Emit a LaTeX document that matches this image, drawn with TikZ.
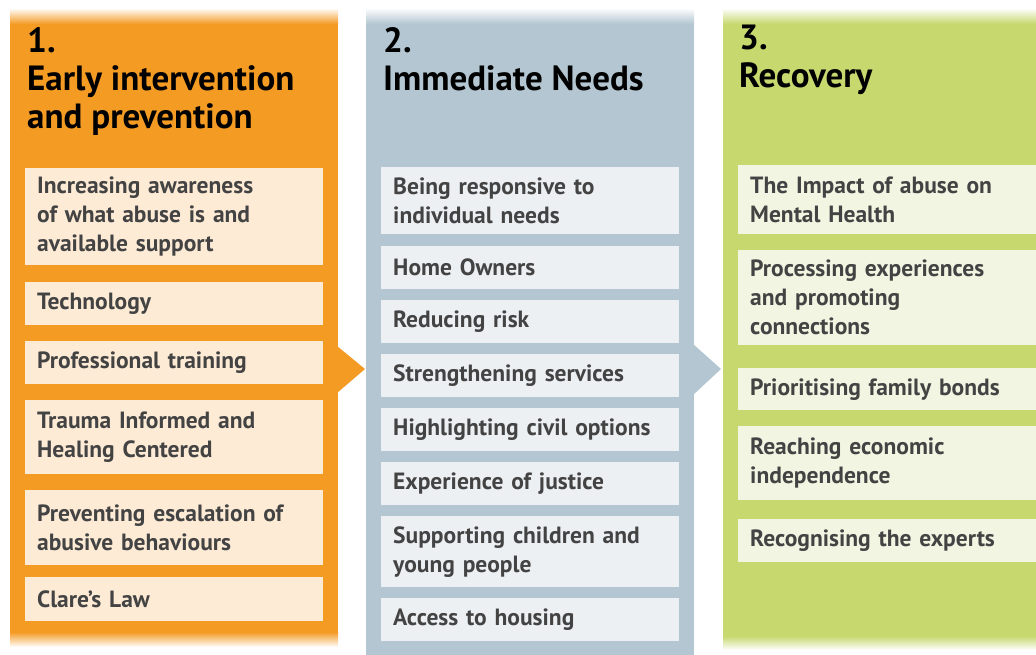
\documentclass[tikz,border=0pt]{standalone}
\usepackage{fontspec}
\setmainfont{PT Sans}
\usepackage{xcolor}

\definecolor{orangecol}{HTML}{F49B24}
\definecolor{bluecol}{HTML}{B3C6D1}
\definecolor{greencol}{HTML}{C6D86E}
\definecolor{orangebox}{HTML}{FDEBD5}
\definecolor{bluebox}{HTML}{ECF0F3}
\definecolor{greenbox}{HTML}{F2F5E2}
\definecolor{itemtext}{HTML}{434343}

\tikzset{
  column/.style={anchor=north west, inner sep=0pt, minimum width=#1},
  item/.style={anchor=north west, fill=#1, minimum width=298pt, text width=274pt,
    inner xsep=12pt, inner ysep=0pt, align=left, text=itemtext,
    font=\fontsize{23.5}{29}\selectfont\bfseries},
  heading/.style={anchor=north west, inner sep=0pt, align=left, text=black,
    font=\fontsize{35}{38}\selectfont\bfseries}
}

\begin{document}
\begin{tikzpicture}[x=1pt,y=-1pt]
\useasboundingbox (0,0) rectangle (1036,655);

%columns
\node[column=328pt, fill=orangecol, minimum height=635pt] (col1) at (10,10) {};
\node[column=328pt, fill=bluecol, minimum height=645pt] (col2) at (366,10) {};
\node[column=313pt, fill=greencol, minimum height=638pt] (col3) at (723,10) {};

%fades
\shade[top color=white, bottom color=orangecol] (10,8) rectangle (338,24);
\shade[top color=white, bottom color=bluecol] (366,8) rectangle (694,24);
\shade[top color=white, bottom color=greencol] (723,8) rectangle (1036,24);
\shade[bottom color=white, top color=orangecol] (10,632) rectangle (338,647);
\shade[bottom color=white, top color=greencol] (723,636) rectangle (1036,650);

%arrows
\fill[orangecol] (337,346) -- (365,369) -- (337,393) -- cycle;
\fill[bluecol] (693,344) -- (721,369) -- (693,395) -- cycle;

%headings
\node[heading] (h1) at (27,27) {1.\\Early intervention\\and prevention};
\node[heading] (h2) at (383,27) {2.\\Immediate Needs};
\node[heading] (h3) at (739,25) {3.\\Recovery};

%early intervention
\node[item=orangebox, minimum height=97pt] (a1) at (25,168) {Increasing awareness\\of what abuse is and\\available support};
\node[item=orangebox, minimum height=43pt] (a2) at (25,282) {Technology};
\node[item=orangebox, minimum height=43pt] (a3) at (25,341) {Professional training};
\node[item=orangebox, minimum height=74pt] (a4) at (25,400) {Trauma Informed and\\Healing Centered};
\node[item=orangebox, minimum height=75pt] (a5) at (25,490) {Preventing escalation of\\abusive behaviours};
\node[item=orangebox, minimum height=44pt] (a6) at (25,577) {Clare’s Law};

%immediate needs
\node[item=bluebox, minimum height=67pt] (b1) at (381,167) {Being responsive to\\individual needs};
\node[item=bluebox, minimum height=43pt] (b2) at (381,246) {Home Owners};
\node[item=bluebox, minimum height=43pt] (b3) at (381,300) {Reducing risk};
\node[item=bluebox, minimum height=43pt] (b4) at (381,354) {Strengthening services};
\node[item=bluebox, minimum height=43pt] (b5) at (381,408) {Highlighting civil options};
\node[item=bluebox, minimum height=43pt] (b6) at (381,462) {Experience of justice};
\node[item=bluebox, minimum height=71pt] (b7) at (381,516) {Supporting children and\\young people};
\node[item=bluebox, minimum height=43pt] (b8) at (381,598) {Access to housing};

%recovery
\node[item=greenbox, minimum height=69pt] (c1) at (738,165) {The Impact of abuse on\\Mental Health};
\node[item=greenbox, minimum height=95pt] (c2) at (738,250) {Processing experiences\\and promoting\\connections};
\node[item=greenbox, minimum height=42pt] (c3) at (738,368) {Prioritising family bonds};
\node[item=greenbox, minimum height=74pt] (c4) at (738,426) {Reaching economic\\independence};
\node[item=greenbox, minimum height=43pt] (c5) at (738,519) {Recognising the experts};
\end{tikzpicture}
\end{document}
